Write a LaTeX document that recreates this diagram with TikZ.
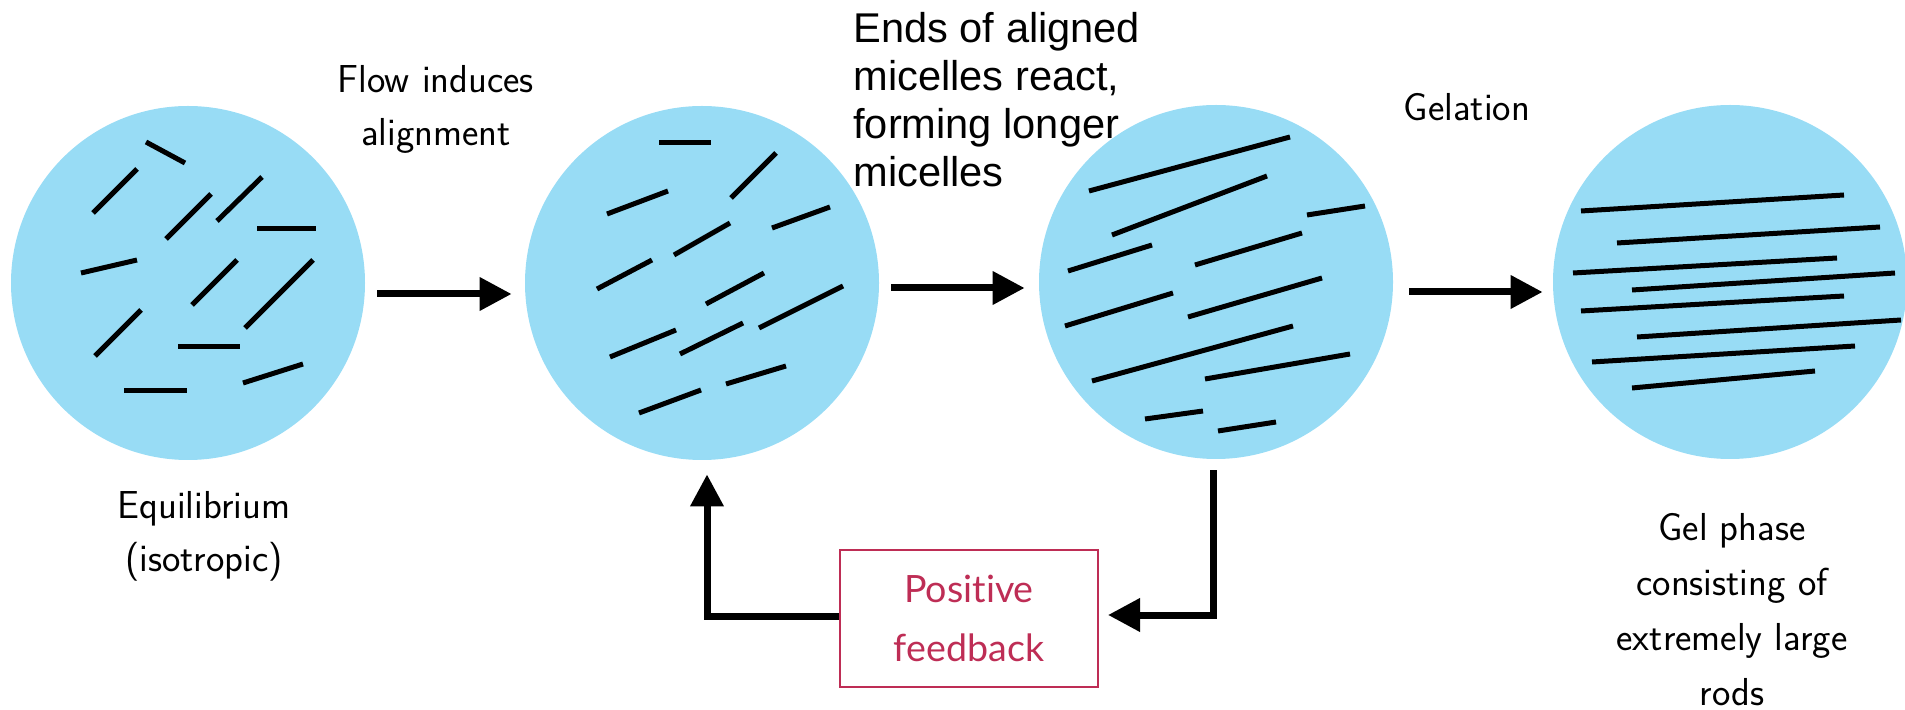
\documentclass[tikz,border=0pt]{standalone}
\usepackage{fontspec}
\newfontfamily\arialfont{Liberation Sans}
\newfontfamily\latofont{Lato}[Ligatures=NoCommon]
\usetikzlibrary{arrows.meta}
\definecolor{micellebg}{RGB}{152,220,245}
\definecolor{feedbackred}{RGB}{190,45,85}
\begin{document}
\begin{tikzpicture}[x=0.5pt,y=-0.5pt,
  blob/.style={circle,fill=micellebg,draw=none,inner sep=0pt,minimum size=177pt},
  rod/.style={line width=2.5pt},
  flow/.style={line width=3.5pt,-{Triangle[length=16pt,width=16pt]}},
  caption/.style={font=\sffamily\fontsize{19.5}{26.5}\selectfont,align=center,inner sep=0pt,anchor=base},
  fbbox/.style={draw=feedbackred,line width=1pt,text=feedbackred,
    font=\latofont\fontsize{18.8}{29.5}\selectfont,align=center,
    minimum width=129pt,minimum height=68.5pt,inner sep=0pt}]
\useasboundingbox (0,0) rectangle (1905,710);

% the four stages as discs
\node[blob] (c1) at (188,283) {};
\node[blob] (c2) at (702,283) {};
\node[blob] (c3) at (1216,282) {};
\node[blob] (c4) at (1730,282) {};

% stage 1: randomly oriented short micelles
\draw[rod] (146,142) -- (185,163);
\draw[rod] (93,213) -- (137,169);
\draw[rod] (166,239) -- (211,194);
\draw[rod] (217,221) -- (262,177);
\draw[rod] (257,229) -- (316,229);
\draw[rod] (81,273) -- (137,260);
\draw[rod] (192,305) -- (237,260);
\draw[rod] (245,328) -- (313,260);
\draw[rod] (95,356) -- (141,310);
\draw[rod] (178,347) -- (240,347);
\draw[rod] (124,391) -- (187,391);
\draw[rod] (243,383) -- (303,364);

% stage 2: partly aligned micelles
\draw[rod] (659,143) -- (711,143);
\draw[rod] (731,198) -- (776,153);
\draw[rod] (607,214) -- (668,191);
\draw[rod] (772,228) -- (830,207);
\draw[rod] (674,255) -- (730,223);
\draw[rod] (597,289) -- (652,260);
\draw[rod] (706,304) -- (764,273);
\draw[rod] (759,328) -- (843,286);
\draw[rod] (610,357) -- (676,330);
\draw[rod] (680,354) -- (743,323);
\draw[rod] (726,384) -- (786,366);
\draw[rod] (639,413) -- (701,390);

% stage 3: longer aligned micelles
\draw[rod] (1089,191) -- (1290,137);
\draw[rod] (1112,235) -- (1267,176);
\draw[rod] (1307,215) -- (1365,206);
\draw[rod] (1068,271) -- (1152,245);
\draw[rod] (1195,265) -- (1302,233);
\draw[rod] (1065,326) -- (1173,293);
\draw[rod] (1188,317) -- (1322,278);
\draw[rod] (1092,381) -- (1293,326);
\draw[rod] (1205,379) -- (1350,354);
\draw[rod] (1145,419) -- (1203,411);
\draw[rod] (1218,431) -- (1276,422);

% stage 4: very long rods of the gel
\draw[rod] (1581,211) -- (1844,195);
\draw[rod] (1617,243) -- (1880,227);
\draw[rod] (1573,273) -- (1837,258);
\draw[rod] (1632,290) -- (1895,273);
\draw[rod] (1581,311) -- (1844,296);
\draw[rod] (1637,337) -- (1901,320);
\draw[rod] (1592,362) -- (1855,346);
\draw[rod] (1632,388) -- (1815,371);

% captions (anchored at the baseline of their last line)
\node[caption] (lflow) at (436,146) {Flow induces\\alignment};
\node[caption] (leq) at (204,572) {Equilibrium\\(isotropic)};
\node[caption] (lgelation) at (1467,121) {Gelation};
\node[caption,font=\sffamily\fontsize{19.5}{27.5}\selectfont] (lgel) at (1732,705)
  {Gel phase\\consisting of\\extremely large\\rods};
\node[font=\arialfont\fontsize{20.8}{24}\selectfont,align=left,inner sep=0pt,anchor=base west]
  (lends) at (853,187) {Ends of aligned\\micelles react,\\forming longer\\micelles};

% feedback box
\node[fbbox] (fb) at (969,618.5) {Positive\\feedback};

% process arrows
\draw[flow] ([xshift=6pt,yshift=-5.5pt]c1.east) -- ([xshift=-6.5pt,yshift=-5.5pt]c2.west);
\draw[flow] ([xshift=6pt,yshift=-2.5pt]c2.east) -- ([xshift=-7pt,yshift=-3pt]c3.west);
\draw[flow] ([xshift=8pt,yshift=-5pt]c3.east) -- ([xshift=-5pt,yshift=-5pt]c4.west);

% feedback loop
\draw[flow] ([xshift=-1.5pt,yshift=-5.5pt]c3.south) |- ([xshift=4.5pt,yshift=1.75pt]fb.east);
\draw[flow] ([yshift=1.25pt]fb.west) -| ([xshift=2.5pt,yshift=-7pt]c2.south);
\end{tikzpicture}
\end{document}
